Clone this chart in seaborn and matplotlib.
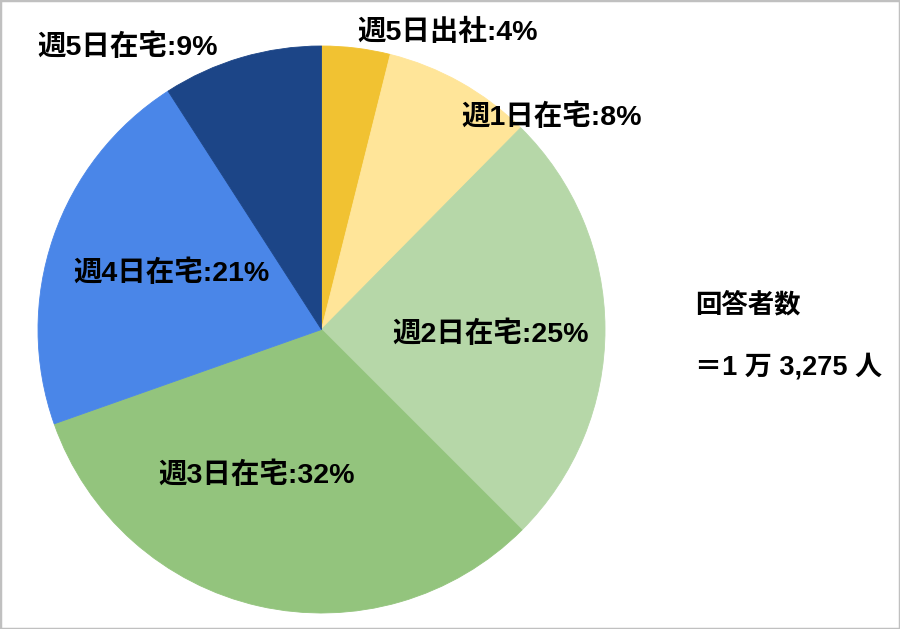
import matplotlib
matplotlib.use("Agg")
import matplotlib.pyplot as plt
import seaborn as sns
from matplotlib.patches import Rectangle

sns.set_theme(style="white")
plt.rcParams['font.family'] = ['Liberation Sans', 'Noto Sans CJK JP', 'DejaVu Sans']

# Data
categories = ["週5日出社", "週1日在宅", "週2日在宅", "週3日在宅", "週4日在宅", "週5日在宅"]
shares = [3.9, 8.5, 25.1, 32.1, 21.3, 9.1]
pct_labels = ["4%", "8%", "25%", "32%", "21%", "9%"]
colors = ["#f1c232", "#ffe599", "#b6d7a8", "#93c47d", "#4a86e8", "#1c4587"]
note_title = "回答者数"
note_value = "＝1 万 3,275 人"

# Label centre positions (pixels in the 900x629 image)
label_pos = [(448, 32), (552, 117), (491, 334), (257, 475), (172, 273), (128, 47)]

W, H = 900, 629
fig = plt.figure(figsize=(W / 100, H / 100), dpi=100)
fig.patch.set_facecolor("white")

cx, cy, r = 321.5, 329.5, 283.5
ax = fig.add_axes([(cx - r) / W, (H - cy - r) / H, 2 * r / W, 2 * r / H])
wedges, _ = ax.pie(shares, colors=colors, startangle=90, counterclock=False,
                   radius=1.0)
for w, c in zip(wedges, colors):
    w.set_edgecolor(c)
    w.set_linewidth(0.6)
ax.set_xlim(-1, 1)
ax.set_ylim(-1, 1)
ax.set_aspect("equal")
ax.axis("off")

for cat, pct, (px, py) in zip(categories, pct_labels, label_pos):
    fig.text(px / W, 1 - py / H, f"{cat}:{pct}", ha="center", va="center",
             fontsize=20.5, fontweight="bold", color="black")

fig.text(695 / W, 1 - 305 / H, note_title, ha="left", va="center",
         fontsize=19, fontweight="bold", color="black")
fig.text(695 / W, 1 - 367 / H, note_value, ha="left", va="center",
         fontsize=19.5, fontweight="bold", color="black")

fig.patches.append(Rectangle((0, 0), 1, 1, transform=fig.transFigure, fill=False,
                             edgecolor="#c0c0c0", linewidth=2.5, zorder=10))

fig.savefig("out.png", dpi=100, facecolor="white")
